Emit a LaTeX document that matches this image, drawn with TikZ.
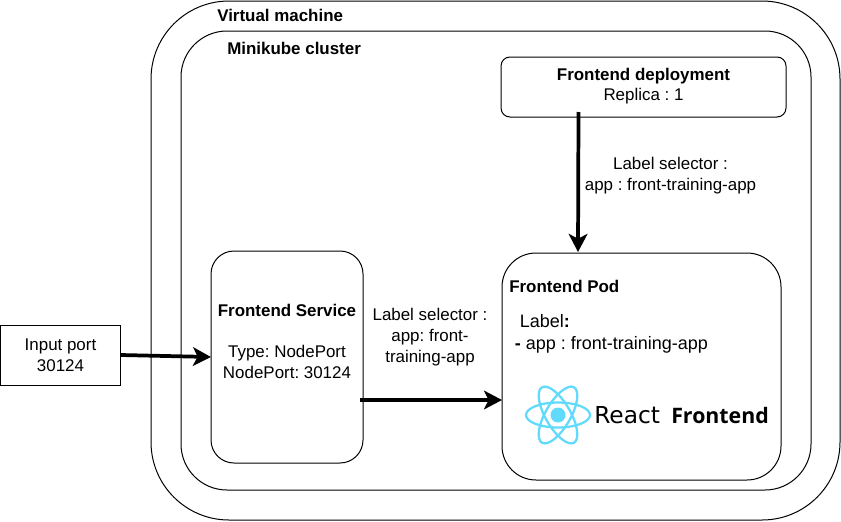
\documentclass[tikz,border=0pt]{standalone}
\usepackage{fontspec}
\setmainfont{Liberation Sans}
\newfontfamily\reactfont{DejaVu Sans}
\newfontfamily\frontfont{Open Sans}
\usetikzlibrary{arrows.meta}
\tikzset{
  px/.style={x=0.75pt,y=-0.75pt},
  box/.style={draw=black,line width=0.75pt,outer sep=0pt,inner sep=0pt,rectangle},
  txt/.style={align=center,font=\frenchspacing\fontsize{12.7pt}{15.5pt}\selectfont,inner sep=0pt},
  title/.style={anchor=west,font=\frenchspacing\fontsize{12.7pt}{15.5pt}\selectfont\bfseries,inner sep=0pt},
  flow/.style={line width=2.8pt,-{Stealth[length=13.5pt,width=14pt,inset=3.5pt]}},
  atom/.style={draw=reactblue,line width=1.7pt},
}
\definecolor{reactblue}{HTML}{61DAFB}
\newcommand{\rbox}[6]{% name, x1,y1,x2,y2, radius (px)
  \node[box,rounded corners=#6*0.75pt,minimum width=(#4-#2)*0.75pt,minimum height=(#5-#3)*0.75pt] (#1) at ({(#2+#4)/2},{(#3+#5)/2}) {};}
\begin{document}
\begin{tikzpicture}[px]
\useasboundingbox (0,0) rectangle (841,521);
\rbox{vm}{151}{1}{840}{520}{78}
\rbox{mk}{181}{31}{811}{490}{46}
\rbox{dep}{501}{57}{786}{117}{9}
\rbox{svc}{211}{251}{363}{463}{23}
\rbox{pod}{502}{253}{781}{480}{34}
\rbox{inp}{0.5}{325}{120.5}{385}{0}
\node[title] (vmt) at (217,15) {Virtual machine};
\node[title] (mkt) at (227,48.5) {Minikube cluster};
\node[txt] (dept) at (643.5,86) {\textbf{Frontend deployment}\\Replica : 1};
\node[txt] (deplab) at (670.5,175.5) {Label selector :\\app : front-training-app};
\node[txt] (svct) at (287,310) {\textbf{Frontend Service}};
\node[txt] (svcd) at (287,362) {Type: NodePort\\NodePort: 30124};
\node[txt] (svclab) at (430,337) {Label selector :\\app: front-\\training-app};
\node[title] (podt) at (509,286) {Frontend Pod};
\node[txt,align=left,anchor=west,font=\frenchspacing\fontsize{13.5pt}{16.5pt}\selectfont] (podl) at (514.5,333.5) {\ Label\textbf{:}\\\textbf{-} app : front-training-app};
\node[txt] (inpt) at (60.5,355) {Input port\\30124};
% React logo
\node[circle,fill=reactblue,minimum size=15*0.75pt,inner sep=0pt] (core) at (558,415) {};
\foreach \a in {0,60,120}{
  \draw[atom,rotate around={\a:(core.center)}] (core.center) ellipse [x radius=32,y radius=12.5];
}
\node[anchor=base west,inner sep=0pt,font=\reactfont\fontsize{17.5pt}{20pt}\selectfont] (rt) at (594,423) {React};
\node[anchor=base west,inner sep=0pt,font=\frontfont\bfseries\fontsize{16pt}{20pt}\selectfont] (ft) at (671,423) {Frontend};
% connectors
\draw[flow] (inp.east) -- (svc.west);
\draw[flow] ([xshift=-65*0.75pt,yshift=5*0.75pt]dep.south) -- ([xshift=-63.5*0.75pt,yshift=1*0.75pt]pod.north);
\draw[flow] ([xshift=-3*0.75pt,yshift=-43*0.75pt]svc.east) -- ([yshift=-33.5*0.75pt]pod.west);
\end{tikzpicture}
\end{document}
